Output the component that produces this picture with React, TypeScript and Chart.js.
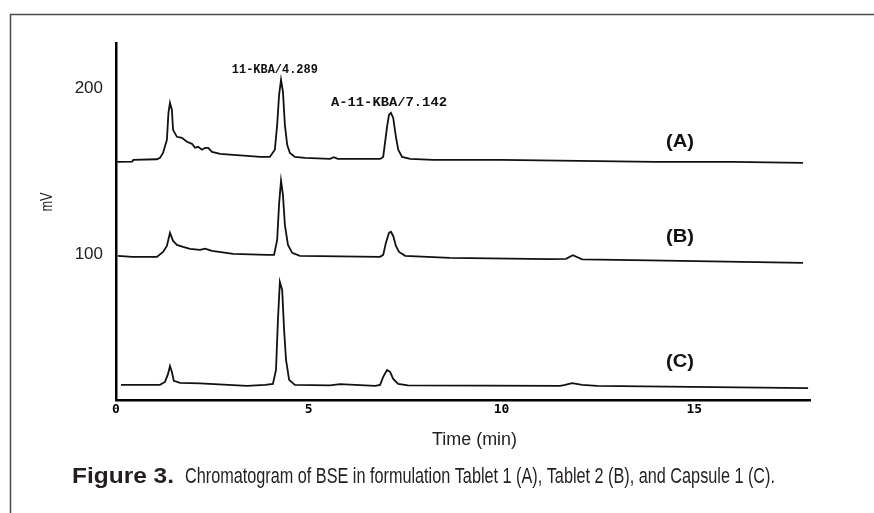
import React, { useEffect, useRef } from 'react';
import { Chart, registerables } from 'chart.js';

Chart.register(...registerables);

// ---- data (retention time in min, detector response in mV) ----
const TIME_A = [0.03, 0.42, 0.45, 1.06, 1.14, 1.22, 1.32, 1.36, 1.40, 1.45, 1.48, 1.58, 1.71, 1.84, 1.97, 2.05, 2.13, 2.23, 2.31, 2.39, 2.49, 2.70, 3.04, 3.40, 3.74, 3.99, 4.12, 4.18, 4.23, 4.28, 4.33, 4.38, 4.44, 4.51, 4.64, 4.90, 5.55, 5.65, 5.75, 6.85, 6.93, 7.03, 7.08, 7.13, 7.19, 7.26, 7.32, 7.42, 7.63, 8.22, 10.0, 11.5, 12.0, 14.0, 16.0, 17.82];
const MV_A = [155.4, 155.6, 156.6, 157.0, 157.8, 160.8, 168.7, 184.9, 191.0, 186.7, 174.7, 170.5, 169.9, 167.5, 166.3, 163.9, 164.5, 162.7, 163.9, 163.9, 161.4, 160.2, 159.6, 159.0, 158.4, 158.4, 162.7, 177.7, 195.8, 204.8, 197.6, 177.7, 165.7, 160.8, 158.4, 157.8, 157.2, 158.2, 157.2, 157.2, 158.4, 176.5, 183.7, 184.9, 181.9, 170.5, 162.7, 158.4, 157.2, 156.6, 156.6, 156.2, 156.0, 155.4, 155.4, 154.8];

const TIME_B = [0.05, 0.42, 1.06, 1.22, 1.32, 1.40, 1.48, 1.58, 1.74, 1.92, 2.18, 2.31, 2.49, 3.04, 3.92, 4.10, 4.18, 4.23, 4.28, 4.33, 4.38, 4.46, 4.57, 4.77, 6.85, 6.93, 7.00, 7.08, 7.13, 7.19, 7.26, 7.34, 7.50, 8.66, 11.26, 11.67, 11.85, 12.09, 13.85, 17.82];
const MV_B = [98.8, 98.2, 98.2, 101.2, 104.8, 112.7, 107.8, 105.4, 104.2, 103.0, 102.4, 103.2, 101.8, 100.0, 99.4, 99.4, 108.4, 130.1, 144.0, 135.5, 117.5, 105.4, 100.6, 98.8, 98.2, 99.4, 106.6, 112.7, 113.3, 110.8, 104.8, 101.2, 98.8, 97.6, 96.8, 97.0, 99.2, 96.7, 96.1, 94.6];

const TIME_C = [0.13, 1.14, 1.27, 1.35, 1.40, 1.45, 1.50, 1.66, 2.18, 3.40, 3.87, 4.07, 4.15, 4.20, 4.25, 4.31, 4.36, 4.41, 4.49, 4.64, 5.55, 5.81, 6.72, 6.85, 6.93, 7.03, 7.11, 7.19, 7.32, 7.57, 11.52, 11.65, 11.83, 12.09, 12.48, 17.95];
const MV_C = [21.1, 21.1, 22.9, 27.7, 32.5, 28.9, 23.5, 22.3, 22.0, 20.5, 21.1, 21.7, 30.1, 60.2, 83.1, 78.3, 54.2, 36.1, 24.1, 21.1, 20.8, 21.5, 20.5, 21.1, 25.9, 30.1, 28.9, 24.7, 21.7, 20.8, 20.5, 21.1, 22.1, 21.1, 20.5, 19.1];

const X_TICKS = [0, 5, 10, 15];
const Y_TICKS = [100, 200];
const SERIES_NAMES = ['(A)', '(B)', '(C)'];
const PEAK_NAMES = ['11-KBA/4.289', 'A-11-KBA/7.142'];
const X_TITLE = 'Time (min)';
const Y_TITLE = 'mV';
const CAPTION_BOLD = 'Figure 3.';
const CAPTION_TEXT = 'Chromatogram of BSE in formulation Tablet 1 (A), Tablet 2 (B), and Capsule 1 (C).';

// ---- helpers ----
function fitText(ctx: CanvasRenderingContext2D, text: string, x: number, y: number, width: number, align: CanvasTextAlign) {
  const w = ctx.measureText(text).width || 1;
  ctx.save();
  ctx.translate(x, y);
  ctx.scale(width / w, 1);
  ctx.textAlign = align;
  ctx.fillText(text, 0, 0);
  ctx.restore();
}

// annotation anchors in data units (min, mV) and fitted widths
const PEAK_LABEL_POS = [[4.12, 210.8, 86], [7.08, 191.0, 116]];
const SERIES_LABEL_POS = [[14.63, 167.5], [14.63, 110.2], [14.63, 34.9]];

const decorPlugin = {
  id: 'decor',
  afterDraw(chart: any) {
    const { ctx } = chart;
    const xs = chart.scales.x;
    const ys = chart.scales.y;
    ctx.save();
    // figure frame
    ctx.strokeStyle = '#4a4a4a';
    ctx.lineWidth = 1.5;
    ctx.beginPath();
    ctx.moveTo(874, 14.5);
    ctx.lineTo(10.5, 14.5);
    ctx.lineTo(10.5, 513);
    ctx.stroke();

    // y title
    ctx.fillStyle = '#222';
    ctx.font = '16px "Liberation Sans", Arial, sans-serif';
    ctx.textBaseline = 'middle';
    ctx.save();
    ctx.translate(48, 202);
    ctx.rotate(-Math.PI / 2);
    fitText(ctx, Y_TITLE, 0, 0, 19, 'center');
    ctx.restore();

    // x title
    ctx.font = '18px "Liberation Sans", Arial, sans-serif';
    ctx.textBaseline = 'alphabetic';
    fitText(ctx, X_TITLE, 474.5, 445, 85, 'center');

    // peak labels
    ctx.fillStyle = '#111';
    ctx.textBaseline = 'middle';
    ctx.font = 'bold 13px "Liberation Mono", "DejaVu Sans Mono", monospace';
    PEAK_NAMES.forEach((name, i) => {
      const [t, v, w] = PEAK_LABEL_POS[i];
      fitText(ctx, name, xs.getPixelForValue(t), ys.getPixelForValue(v), w, 'center');
    });

    // series labels
    ctx.font = 'bold 18px "Liberation Sans", Arial, sans-serif';
    SERIES_NAMES.forEach((name, i) => {
      const [t, v] = SERIES_LABEL_POS[i];
      fitText(ctx, name, xs.getPixelForValue(t), ys.getPixelForValue(v), 28, 'center');
    });

    // caption
    ctx.fillStyle = '#231f20';
    ctx.textBaseline = 'alphabetic';
    ctx.font = 'bold 22px "Liberation Sans", Arial, sans-serif';
    fitText(ctx, CAPTION_BOLD, 72, 483, 102, 'left');
    ctx.font = '22px "Liberation Sans", Arial, sans-serif';
    fitText(ctx, CAPTION_TEXT, 185, 483, 590, 'left');
    ctx.restore();
  },
};

function makeSeries(times: number[], values: number[]) {
  return times.map((t, i) => ({ x: t, y: values[i] }));
}

export default function App() {
  const ref = useRef<HTMLCanvasElement>(null);

  useEffect(() => {
    if (!ref.current) return;
    const lineStyle = {
      borderColor: '#111',
      borderWidth: 1.8,
      pointRadius: 0,
      tension: 0,
      fill: false,
    };
    const chart = new Chart(ref.current, {
      type: 'line',
      data: {
        datasets: [
          { label: SERIES_NAMES[0], data: makeSeries(TIME_A, MV_A), ...lineStyle },
          { label: SERIES_NAMES[1], data: makeSeries(TIME_B, MV_B), ...lineStyle },
          { label: SERIES_NAMES[2], data: makeSeries(TIME_C, MV_C), ...lineStyle },
        ],
      },
      options: {
        animation: false,
        responsive: false,
        devicePixelRatio: 1,
        layout: { padding: { left: 0, top: 43, right: 64, bottom: 0 } },
        plugins: { legend: { display: false }, tooltip: { enabled: false } },
        scales: {
          x: {
            type: 'linear',
            min: 0,
            max: 18,
            afterFit: (s: any) => { s.height = 113; },
            afterBuildTicks: (s: any) => { s.ticks = X_TICKS.map((v) => ({ value: v })); },
            grid: { display: false, drawTicks: false },
            border: { display: true, color: '#000', width: 2.5 },
            ticks: {
              autoSkip: false,
              maxRotation: 0,
              padding: 2,
              color: '#000',
              font: { family: '"DejaVu Sans Mono", monospace', weight: 'bold', size: 13 },
              callback: (v: any) => String(v),
            },
          },
          y: {
            type: 'linear',
            min: 12,
            max: 227,
            afterFit: (s: any) => { s.width = 116; },
            afterBuildTicks: (s: any) => { s.ticks = Y_TICKS.map((v) => ({ value: v })); },
            grid: { display: false, drawTicks: false },
            border: { display: true, color: '#000', width: 2.5 },
            ticks: {
              padding: 13,
              color: '#222',
              font: { family: '"Liberation Sans", Arial, sans-serif', size: 17 },
              callback: (v: any) => String(v),
            },
          },
        },
      },
      plugins: [decorPlugin],
    } as any);
    return () => chart.destroy();
  }, []);

  return (
    <div style={{ position: 'absolute', left: 0, top: 0, width: 874, height: 513, background: '#fff' }}>
      <canvas ref={ref} width={874} height={513} style={{ display: 'block' }} />
    </div>
  );
}
